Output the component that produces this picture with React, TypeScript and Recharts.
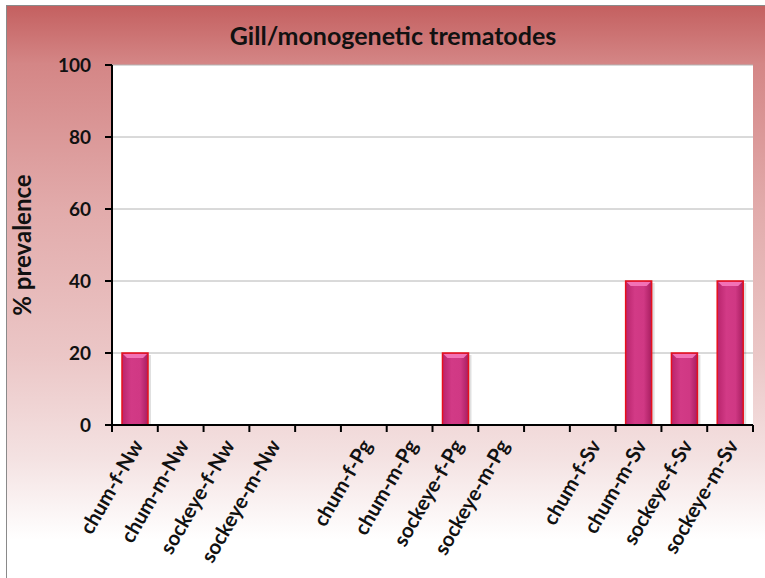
import React from "react"
import { BarChart, Bar, XAxis, YAxis, CartesianGrid, Label } from "recharts"

const categories = [
  "chum-f-Nw", "chum-m-Nw", "sockeye-f-Nw", "sockeye-m-Nw", " ",
  "chum-f-Pg", "chum-m-Pg", "sockeye-f-Pg", "sockeye-m-Pg", "  ",
  "chum-f-Sv", "chum-m-Sv", "sockeye-f-Sv", "sockeye-m-Sv",
]
const prevalence = [20, 0, 0, 0, null, 0, 0, 20, 0, null, 0, 40, 20, 40]
const yTicks = [0, 20, 40, 60, 80, 100]

const data = categories.map((name, i) => ({ name, value: prevalence[i] }))

const FONT = "Lato, 'Open Sans', sans-serif"

function BevelBar(props: any) {
  const { x, y, width, height } = props
  if (!height || height <= 0) return null
  const b = Math.min(5, height / 2)
  return (
    <g>
      <rect x={x + 3} y={y + 2} width={width} height={height - 2} fill="rgba(0,0,0,0.12)" />
      <rect x={x} y={y} width={width} height={height} fill="url(#barFill)" stroke="#e8101c" strokeWidth={1.5} />
      <polygon
        points={`${x + 1},${y + 1} ${x + width - 1},${y + 1} ${x + width - 5},${y + b} ${x + 5},${y + b}`}
        fill="#f272b6"
      />
    </g>
  )
}

function XTick(props: any) {
  const { x, y, payload, index } = props
  const half = payload && payload.offset ? payload.offset : 22.9
  const last = index === categories.length - 1
  return (
    <g>
      <line x1={x - half} y1={y - 8} x2={x - half} y2={y - 1} stroke="#000" strokeWidth={2} />
      {last && <line x1={x + half} y1={y - 8} x2={x + half} y2={y - 1} stroke="#000" strokeWidth={2} />}
      <g transform={`translate(${x + 9},${y + 12})`}>
        <text
          textAnchor="end"
          transform="rotate(-60)"
          fontFamily={FONT}
          fontWeight="bold"
          fontSize={20.5}
          fill="#111"
        >
          {payload.value.trim()}
        </text>
      </g>
    </g>
  )
}

export default function App() {
  return (
    <div style={{ position: "absolute", left: 0, top: 0, width: 765, height: 578, overflow: "hidden", background: "#fff" }}>
      <div
        style={{
          position: "absolute",
          left: 6,
          top: 5,
          width: 770,
          height: 580,
          borderLeft: "1.5px solid #8a8a8a",
          borderTop: "1.5px solid #8a8a8a",
          background:
            "linear-gradient(to bottom, #c46060 0%, #d48686 10%, #e2abab 35%, #ebc6c6 60%, #f4e2e2 78%, #ffffff 92%)",
        }}
      />
      <div
        style={{
          position: "absolute",
          left: 0,
          top: 20,
          width: 786,
          textAlign: "center",
          fontFamily: FONT,
          fontWeight: "bold",
          fontSize: 25,
          color: "#111",
        }}
      >
        Gill/monogenetic trematodes
      </div>
      <div style={{ position: "absolute", left: 0, top: 0 }}>
        <BarChart
          width={765}
          height={578}
          data={data}
          margin={{ top: 65, right: 12, bottom: 3, left: 0 }}
          barSize={26}
        >
          <defs>
            <linearGradient id="barFill" x1="0" y1="0" x2="1" y2="0">
              <stop offset="0%" stopColor="#b8246c" />
              <stop offset="35%" stopColor="#d23a86" />
              <stop offset="70%" stopColor="#d03884" />
              <stop offset="100%" stopColor="#a81e60" />
            </linearGradient>
          </defs>
          <CartesianGrid
            vertical={false}
            stroke="#b4b4b4"
            strokeWidth={1}
            fill="#ffffff"
            fillOpacity={1}
          />
          <XAxis
            dataKey="name"
            interval={0}
            height={150}
            axisLine={{ stroke: "#000", strokeWidth: 2 }}
            tickLine={false}
            tick={<XTick />}
          />
          <YAxis
            width={112}
            domain={[0, 100]}
            ticks={yTicks}
            interval={0}
            axisLine={{ stroke: "#000", strokeWidth: 2 }}
            tickLine={{ stroke: "#000", strokeWidth: 2 }}
            tickSize={7}
            tickMargin={14}
            tick={{ fontFamily: FONT, fontWeight: "bold", fontSize: 19, fill: "#111" }}
          >
            <Label
              value="% prevalence"
              angle={-90}
              position="insideLeft"
              offset={22}
              style={{ fontFamily: FONT, fontWeight: "bold", fontSize: 24, fill: "#111", textAnchor: "middle" }}
            />
          </YAxis>
          <Bar dataKey="value" shape={<BevelBar />} isAnimationActive={false} />
        </BarChart>
      </div>
    </div>
  )
}
